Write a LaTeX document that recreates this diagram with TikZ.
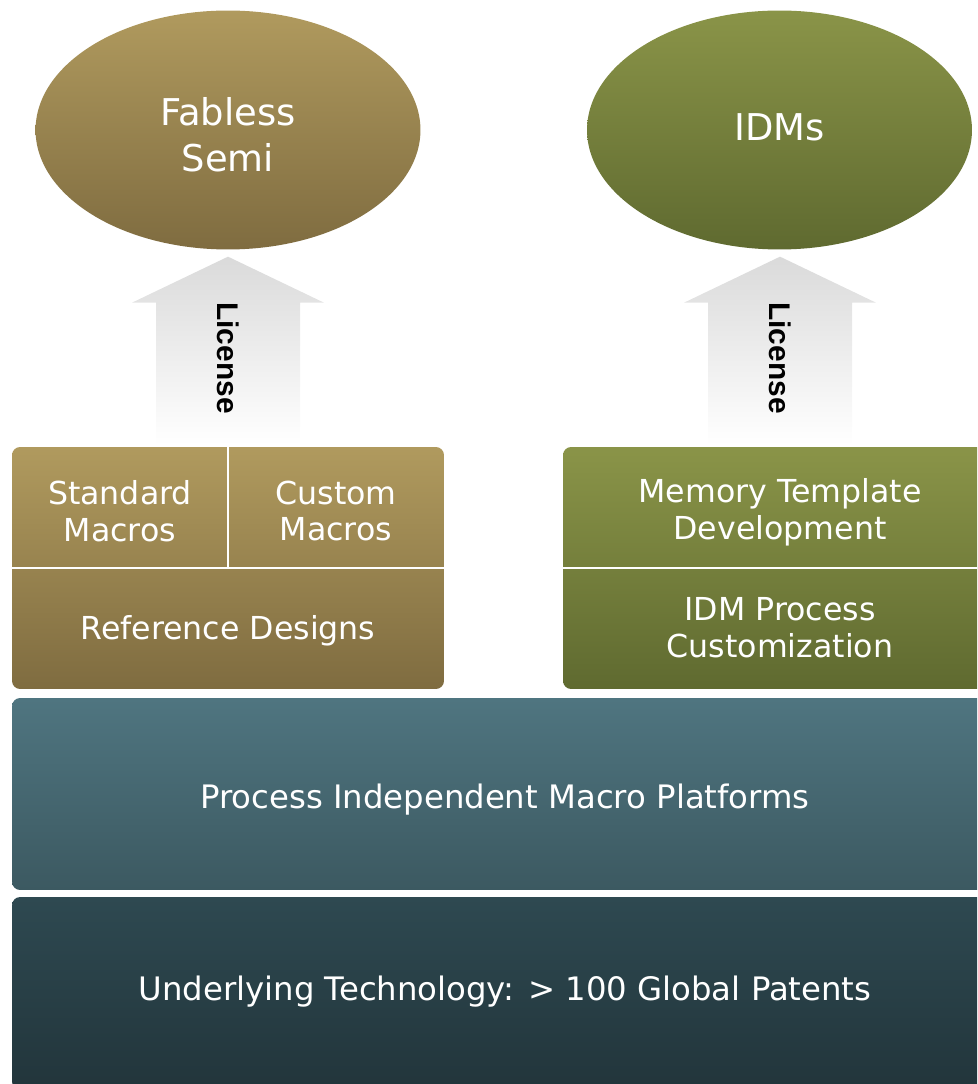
\documentclass[tikz,border=0pt]{standalone}
\usepackage{fontspec}
\setmainfont{DejaVu Sans}
\newfontfamily\licfont{Liberation Sans}
\usepackage{tikz}
\usepackage{xcolor}
\usetikzlibrary{
    shapes.geometric
}

\definecolor{goldtop}{HTML}{B09A5E}
\definecolor{goldbot}{HTML}{7F6C40}
\definecolor{olivetop}{HTML}{8A9448}
\definecolor{olivebot}{HTML}{5F6A30}
\definecolor{bluetop}{HTML}{4F7580}
\definecolor{bluebot}{HTML}{3C5961}
\definecolor{darktop}{HTML}{2E4951}
\definecolor{darkbot}{HTML}{22353B}
\definecolor{arrowgray}{HTML}{DADADA}

\tikzset{
    party/.style={ellipse, minimum width=7.7cm, minimum height=4.78cm, inner sep=0cm},
    partytext/.style={text=white, align=center, font=\fontsize{21}{26}\selectfont},
    layer/.style={rectangle, rounded corners=0.16cm, inner sep=0cm},
    cell/.style={text=white, align=center, font=\fontsize{18}{21}\selectfont},
    base/.style={text=white, font=\fontsize{18.4}{22}\selectfont},
    divider/.style={white, line width=1.1pt},
    licarrow/.style={top color=arrowgray, bottom color=white},
    lictext/.style={rotate=-90, font=\licfont\bfseries\fontsize{17}{20}\selectfont}
}

% block arrow standing on the top of a block node
\newcommand{\licensearrow}[1]{%
    \shade[licarrow] ([shift={(-72,-2)}]#1.north) -- ++(0,-142) -- ++(-24,0) -- ++(96,-46) -- ++(96,46) -- ++(-24,0) -- ++(0,142) -- cycle;
}

\begin{document}
\begin{tikzpicture}[x=0.02cm, y=-0.02cm]
                \useasboundingbox (0,0) rectangle (977,1084);
                \clip (0,0) rectangle (977,1084);

                \node[party, top color=goldtop, bottom color=goldbot] (fabless) at (228, 130) {};
                \node[party, top color=olivetop, bottom color=olivebot] (idms) at (779.5, 130) {};
                \node[partytext] (fablesstext) at (228, 135) {Fabless\\Semi};
                \node[partytext] (idmstext) at (779.5, 127) {IDMs};

                \node[layer, top color=goldtop, bottom color=goldbot, minimum width=8.64cm, minimum height=4.84cm] (fabblock) at (228, 568) {};
                \node[layer, top color=olivetop, bottom color=olivebot, minimum width=8.68cm, minimum height=4.84cm] (idmblock) at (780, 568) {};

                \node[layer, top color=bluetop, bottom color=bluebot, minimum width=19.72cm, minimum height=3.84cm] (platform) at (505, 794) {};
                \node[layer, top color=darktop, bottom color=darkbot, minimum width=19.72cm, minimum height=3.86cm] (tech) at (505, 993.5) {};
                \node[base] (platformtext) at (505, 800) {Process Independent Macro Platforms};
                \node[base] (techtext) at (505, 992) {Underlying Technology: > 100 Global Patents};

                \draw[divider] (fabblock.west)--(fabblock.east);
                \draw[divider] (fabblock.north)--(fabblock.center);
                \draw[divider] (idmblock.west)--(idmblock.east);

                \node[cell] (standard) at (120, 511) {Standard\\Macros};
                \node[cell] (custom) at (336, 511) {Custom\\Macros};
                \node[cell] (reference) at (228, 631) {Reference Designs};
                \node[cell] (memory) at (780, 512) {Memory Template\\Development};
                \node[cell] (idmproc) at (780, 628) {IDM Process\\Customization};

                \licensearrow{fabblock}
                \licensearrow{idmblock}
                \node[lictext] (fablicense) at (228, 358) {License};
                \node[lictext] (idmlicense) at (780, 358) {License};
            \end{tikzpicture}
\end{document}
